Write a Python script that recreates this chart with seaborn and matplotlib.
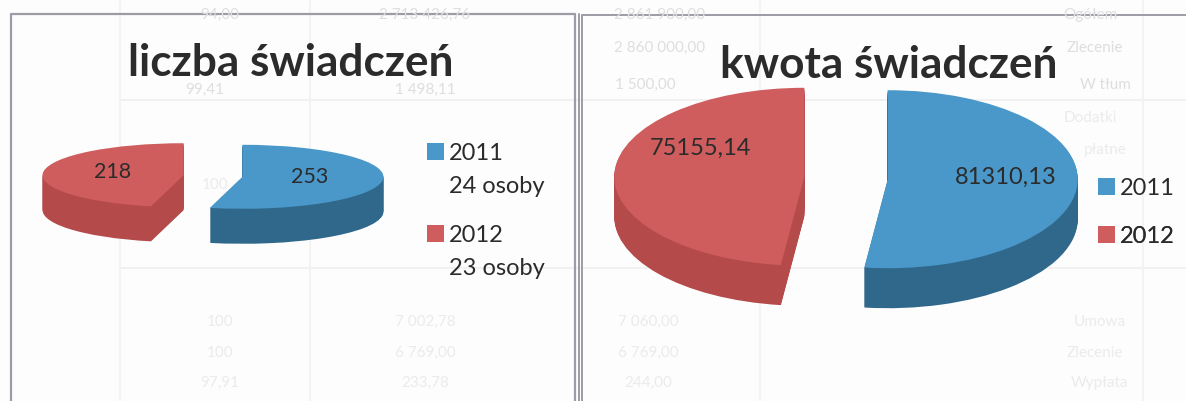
import matplotlib
matplotlib.use("Agg")
import matplotlib.pyplot as plt
from matplotlib.patches import Patch
import seaborn as sns

W, H = 1186, 401

years = ["2011", "2012"]
counts = [253, 218]
amounts = [81310.13, 75155.14]
count_labels = ["253", "218"]
amount_labels = ["81310,13", "75155,14"]
people = ["24 osoby", "23 osoby"]
titles = ["liczba świadczeń", "kwota świadczeń"]

ghost_values = ["94,00", "2 713 426,76", "99,41", "1 498,11",
                "100", "100", "100", "7 002,78", "100", "6 769,00", "97,91", "233,78",
                "2 861 900,00", "Ogółem", "2 860 000,00", "Zlecenie", "1 500,00", "W tłum",
                "Dodatki", "płatne", "7 060,00", "Umowa", "6 769,00", "Zlecenie", "244,00", "Wypłata"]
ghost_xy = [(220, 15), (425, 15), (205, 90), (425, 90),
            (215, 185), (225, 220), (220, 322), (425, 322), (220, 353), (425, 353), (220, 383), (425, 383),
            (660, 15), (1090, 15), (660, 48), (1095, 48), (645, 85), (1105, 85),
            (1090, 118), (1105, 150), (648, 322), (1100, 322), (648, 353), (1095, 353), (648, 383), (1100, 383)]

sns.set_theme(style="white")
plt.rcParams["font.family"] = ["Lato", "DejaVu Sans"]
top_colors = sns.color_palette(["#4a98c9", "#cf5d5d"])
side_colors = sns.color_palette(["#30688c", "#b54a4a"])
INK = "#2b2b2b"

fig = plt.figure(figsize=(W / 100, H / 100), dpi=100, facecolor="#fdfdfd")
bg = fig.add_axes([0, 0, 1, 1], facecolor="#fdfdfd")
bg.set_xlim(0, W)
bg.set_ylim(H, 0)
bg.axis("off")

# scanned-through table behind the charts
for y in (100, 268):
    bg.plot([120, W], [y, y], color="#efefef", lw=1.2)
for x in (120, 310, 760, 1143):
    bg.plot([x, x], [0, H], color="#f1f1f1", lw=1.2)
for s, (x, y) in zip(ghost_values, ghost_xy):
    col = "#dedede" if y < 100 else "#ebebeb"
    bg.text(x, y, s, ha="center", va="center", fontsize=11, color=col)

# panel frames
frame = "#9c9ca6"
bg.plot([10.5, 10.5, 575, 575], [H, 13.5, 13.5, H], color=frame, lw=1.6)
bg.plot([579, 579], [14, H], color=frame, lw=1.4)
bg.plot([582, 582, W], [H, 15, 15], color=frame, lw=1.4)


def pie3d(values, cx, cy, rx, ry, depth, explode):
    box = [(cx - 1.5 * rx) / W, 1 - (cy + 3 * ry) / H, 3 * rx / W, 6 * ry / H]
    ax = fig.add_axes(box)
    ax.patch.set_alpha(0)
    for d in range(depth, 0, -1):
        ax.pie(values, startangle=90, counterclock=False, colors=side_colors,
               explode=[explode, explode], center=(0, -d / ry),
               wedgeprops=dict(linewidth=0))
    ax.pie(values, startangle=90, counterclock=False, colors=top_colors,
           explode=[explode, explode], wedgeprops=dict(linewidth=0))
    ax.set_aspect("auto")
    ax.set_xlim(-1.5, 1.5)
    ax.set_ylim(-3, 3)
    return ax


pie3d(counts, 213, 176, 141, 32, 35, 0.21)
pie3d(amounts, 846, 178, 190, 89, 40, 0.22)


def label(x, y, s, **kw):
    fig.text(x / W, 1 - y / H, s, ha="center", va="center", color=INK, **kw)


label(291, 63, titles[0], fontsize=31.8, fontweight="bold")
label(889, 65, titles[1], fontsize=31.8, fontweight="bold")
label(310, 177, count_labels[0], fontsize=15.5)
label(113, 172, count_labels[1], fontsize=15.5)
label(1006, 177, amount_labels[0], fontsize=17)
label(700, 148, amount_labels[1], fontsize=17)


def legend(x, y, color, lines, size=17):
    blank = Patch(facecolor="none", edgecolor="none")
    handles = [Patch(facecolor=color, edgecolor="none")] + [blank] * (len(lines) - 1)
    leg = bg.legend(handles, lines, loc="upper left", bbox_to_anchor=(x / W, 1 - y / H),
                    bbox_transform=fig.transFigure, frameon=False, fontsize=size,
                    handlelength=0.72, handleheight=0.72, handletextpad=0.2,
                    labelspacing=0.52, borderpad=0, borderaxespad=0, labelcolor=INK)
    bg.add_artist(leg)


legend(427, 143, top_colors[0], [years[0], people[0]])
legend(427, 225, top_colors[1], [years[1], people[1]])
legend(1098, 178, top_colors[0], [years[0]])
legend(1098, 226, top_colors[1], [years[1]])

fig.savefig("out.png", dpi=100, facecolor=fig.get_facecolor())
